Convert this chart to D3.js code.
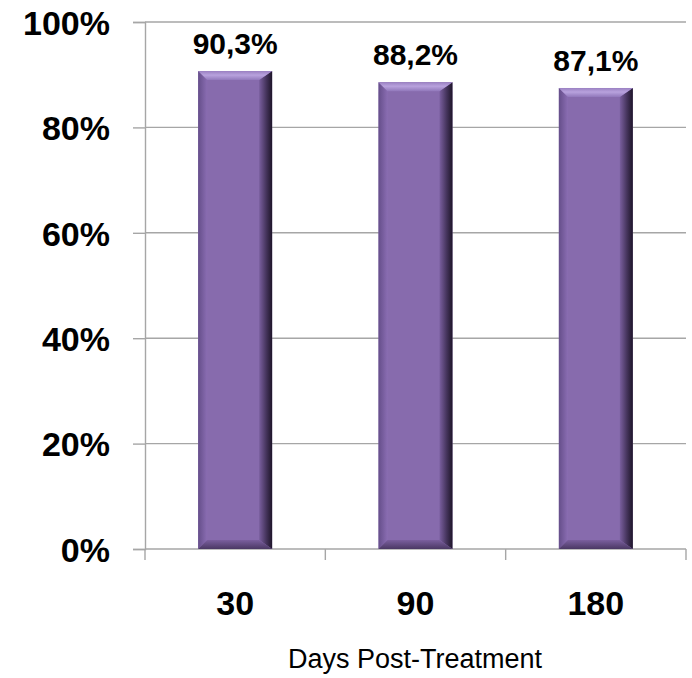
<!DOCTYPE html>
<html>
<head>
<meta charset="utf-8">
<script src="https://cdn.jsdelivr.net/npm/d3@7"></script>
<style>
  body { margin: 0; background: #fff; }
  svg { display: block; font-family: Arial, 'Liberation Sans', sans-serif; }
</style>
</head>
<body>
<svg id="chart" width="692" height="678"></svg>
<script>
const categories = ['30', '90', '180'];
const values = [90.3, 88.2, 87.1];
const valueLabels = ['90,3%', '88,2%', '87,1%'];
const yTicks = [0, 20, 40, 60, 80, 100];
const xTitle = 'Days Post-Treatment';

const width = 692, height = 678;
const margin = { top: 22, right: 6, bottom: 129, left: 145 };

const svg = d3.select('#chart');
const defs = svg.append('defs');

const x = d3.scaleBand()
    .domain(categories)
    .range([margin.left, width - margin.right])
    .paddingInner(0.59)
    .paddingOuter(0.295);

const y = d3.scaleLinear()
    .domain([0, 100])
    .range([height - margin.bottom, margin.top]);

const gridColor = '#a6a6a6';

// gridlines
svg.append('g')
    .selectAll('line')
    .data(yTicks.filter(d => d > 0))
    .enter().append('line')
    .attr('x1', margin.left)
    .attr('x2', width - margin.right)
    .attr('y1', d => y(d))
    .attr('y2', d => y(d))
    .attr('stroke', gridColor)
    .attr('stroke-width', 1.4);

// y axis
const yAxis = svg.append('g')
    .attr('transform', `translate(${margin.left},0)`)
    .call(d3.axisLeft(y).tickValues(yTicks).tickSize(12).tickFormat(d => d + '%'));
yAxis.select('.domain').attr('stroke', gridColor).attr('stroke-width', 1.4);
yAxis.selectAll('.tick line').attr('stroke', gridColor).attr('stroke-width', 1.4);
yAxis.selectAll('.tick text')
    .attr('x', -35)
    .attr('dy', '0.36em')
    .attr('fill', '#000')
    .style('font-size', '34px')
    .style('font-weight', 'bold')
    .style('font-family', "Arial, 'Liberation Sans', sans-serif");

// x axis (ticks between categories)
const boundaries = d3.range(categories.length + 1).map(i => margin.left + i * (width - margin.left - margin.right) / categories.length);
const xAxisG = svg.append('g');
xAxisG.append('line')
    .attr('x1', margin.left)
    .attr('x2', width - margin.right)
    .attr('y1', y(0))
    .attr('y2', y(0))
    .attr('stroke', gridColor)
    .attr('stroke-width', 1.4);
xAxisG.selectAll('line.tk')
    .data(boundaries)
    .enter().append('line')
    .attr('class', 'tk')
    .attr('x1', d => d)
    .attr('x2', d => d)
    .attr('y1', y(0))
    .attr('y2', y(0) + 11)
    .attr('stroke', gridColor)
    .attr('stroke-width', 1.4);

xAxisG.selectAll('text')
    .data(categories)
    .enter().append('text')
    .attr('x', d => x(d) + x.bandwidth() / 2)
    .attr('y', 615)
    .attr('text-anchor', 'middle')
    .style('font-size', '34px')
    .style('font-weight', 'bold')
    .text(d => d);

svg.append('text')
    .attr('x', 415)
    .attr('y', 668)
    .attr('text-anchor', 'middle')
    .style('font-size', '27px')
    .text(xTitle);

// gradients for bevel sides
const rightGrad = defs.append('linearGradient').attr('id', 'rightGrad').attr('x1', 0).attr('x2', 1).attr('y1', 0).attr('y2', 0);
rightGrad.append('stop').attr('offset', '0%').attr('stop-color', '#7a5f9f');
rightGrad.append('stop').attr('offset', '55%').attr('stop-color', '#45345c');
rightGrad.append('stop').attr('offset', '100%').attr('stop-color', '#1e1529');

const leftGrad = defs.append('linearGradient').attr('id', 'leftGrad').attr('x1', 0).attr('x2', 1).attr('y1', 0).attr('y2', 0);
leftGrad.append('stop').attr('offset', '0%').attr('stop-color', '#654e8a');
leftGrad.append('stop').attr('offset', '100%').attr('stop-color', '#8a6db2');

const topGrad = defs.append('linearGradient').attr('id', 'topGrad').attr('x1', 0).attr('x2', 0).attr('y1', 0).attr('y2', 1);
topGrad.append('stop').attr('offset', '0%').attr('stop-color', '#9a80c2');
topGrad.append('stop').attr('offset', '45%').attr('stop-color', '#b8a2dd');
topGrad.append('stop').attr('offset', '100%').attr('stop-color', '#9178bb');

const botGrad = defs.append('linearGradient').attr('id', 'botGrad').attr('x1', 0).attr('x2', 0).attr('y1', 0).attr('y2', 1);
botGrad.append('stop').attr('offset', '0%').attr('stop-color', '#7a5f9e');
botGrad.append('stop').attr('offset', '100%').attr('stop-color', '#4a3863');

const bev = 9;
const bars = svg.append('g')
    .selectAll('g')
    .data(categories.map((c, i) => ({ c, v: values[i], label: valueLabels[i] })))
    .enter().append('g');

bars.each(function (d) {
    const g = d3.select(this);
    const x0 = x(d.c), x1 = x0 + x.bandwidth();
    const y0 = y(d.v) - 2, y1 = y(0);
    g.append('rect')
        .attr('x', x0).attr('y', y0)
        .attr('width', x1 - x0).attr('height', y1 - y0)
        .attr('fill', '#876bad');
    // left side
    g.append('polygon')
        .attr('points', [[x0, y0], [x0 + bev, y0 + bev], [x0 + bev, y1 - bev], [x0, y1]].join(' '))
        .attr('fill', 'url(#leftGrad)');
    // right side
    g.append('polygon')
        .attr('points', [[x1, y0], [x1 - bev - 4, y0 + bev], [x1 - bev - 4, y1 - bev], [x1, y1]].join(' '))
        .attr('fill', 'url(#rightGrad)');
    // top
    g.append('polygon')
        .attr('points', [[x0, y0], [x1, y0], [x1 - bev - 4, y0 + bev], [x0 + bev, y0 + bev]].join(' '))
        .attr('fill', 'url(#topGrad)');
    // bottom
    g.append('polygon')
        .attr('points', [[x0, y1], [x1, y1], [x1 - bev - 4, y1 - bev], [x0 + bev, y1 - bev]].join(' '))
        .attr('fill', 'url(#botGrad)');
    g.append('text')
        .attr('x', (x0 + x1) / 2)
        .attr('y', y0 - 17)
        .attr('text-anchor', 'middle')
        .style('font-size', '30px')
        .style('font-weight', 'bold')
        .text(d.label);
});
</script>
</body>
</html>
